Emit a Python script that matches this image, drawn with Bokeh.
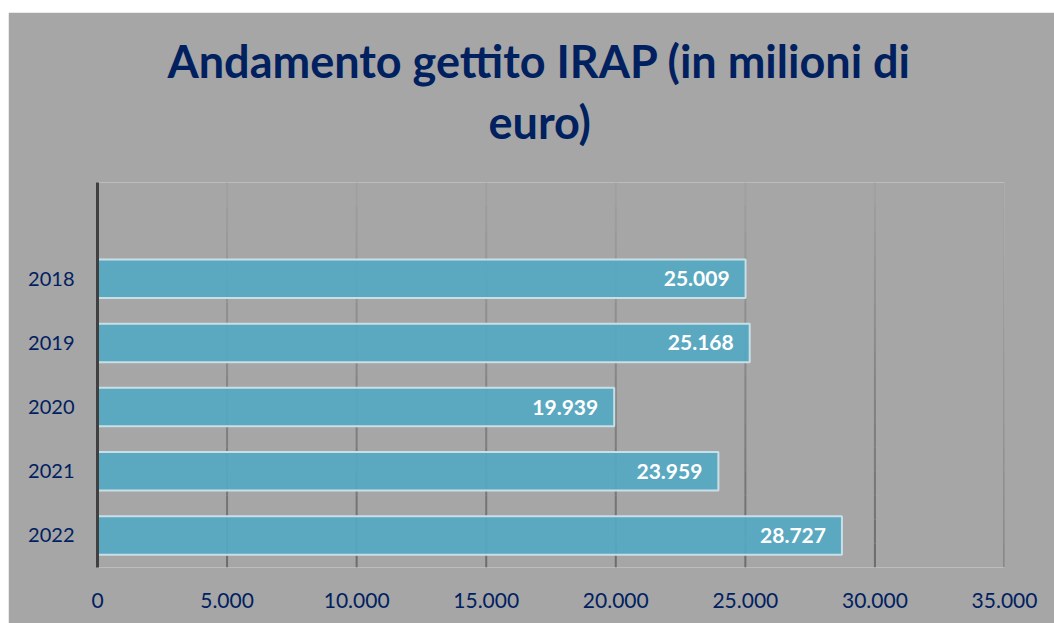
from bokeh.plotting import figure
from bokeh.models import Range1d, FixedTicker, Title, ColumnDataSource
from bokeh.core.properties import value
from bokeh.embed import file_html
from bokeh.resources import INLINE

# ---- data ----
years = ["2018", "2019", "2020", "2021", "2022"]
gettito = [25009, 25168, 19939, 23959, 28727]
x_ticks = [0, 5000, 10000, 15000, 20000, 25000, 30000, 35000]
x_tick_labels = ["0", "5.000", "10.000", "15.000", "20.000", "25.000", "30.000", "35.000"]
title_line1 = "Andamento gettito IRAP (in milioni di"
title_line2 = "euro)"

BG = "#a6a6a6"
NAVY = "#002060"
FONT = "Lato"

n = len(years)
ypos = [n - i for i in range(n)]          # 2018 at top
labels = [f"{v:,}".replace(",", ".") for v in gettito]
src = ColumnDataSource(dict(y=ypos, v=gettito, lab=labels))

X0, X1 = 0, 35000
Y0, Y1 = 0.5, n + 1.5

p = figure(width=1046, height=611, output_backend="svg", toolbar_location=None,
           x_range=Range1d(X0, X1), y_range=Range1d(Y0, Y1),
           min_border_left=89, min_border_right=50, min_border_bottom=56,
           min_border_top=170)
p.styles = {"margin-top": "12px", "margin-left": "8px"}
p.background_fill_color = BG
p.border_fill_color = BG
p.outline_line_color = None
p.xgrid.grid_line_color = None
p.ygrid.grid_line_color = None

# gradient gridlines (light at top, darker at bottom)
steps = 16
grid_x = x_ticks[1:]
for k in range(steps):
    ya = Y1 - (Y1 - Y0) * k / steps
    yb = Y1 - (Y1 - Y0) * (k + 1) / steps
    t = (k + 0.5) / steps
    c = int(162 - (162 - 108) * t)
    col = "#%02x%02x%02x" % (c, c, c)
    p.segment(x0=grid_x, x1=grid_x, y0=[ya] * len(grid_x), y1=[yb] * len(grid_x),
              line_color=col, line_width=2)

p.hbar(y="y", right="v", left=0, height=0.6, source=src,
       fill_color="#55a9c2", fill_alpha=0.93,
       line_color="#c8dfe7", line_width=2)

p.text(x="v", y="y", text="lab", source=src, x_offset=-16,
       text_align="right", text_baseline="middle",
       text_color="white", text_font=value(FONT), text_font_style="bold",
       text_font_size="21px")

# x axis
p.xaxis.ticker = FixedTicker(ticks=x_ticks)
p.xaxis.major_label_overrides = {t: l for t, l in zip(x_ticks, x_tick_labels)}
p.xaxis.axis_line_color = None
p.xaxis.major_tick_line_color = None
p.xaxis.minor_tick_line_color = None
p.xaxis.major_label_standoff = 19
p.xaxis.major_label_text_font = FONT
p.xaxis.major_label_text_font_size = "21px"
p.xaxis.major_label_text_color = NAVY

# y axis
p.yaxis.ticker = FixedTicker(ticks=ypos)
p.yaxis.major_label_overrides = {y: yr for y, yr in zip(ypos, years)}
p.yaxis.axis_line_color = "#404040"
p.yaxis.axis_line_width = 3
p.yaxis.major_tick_line_color = None
p.yaxis.minor_tick_line_color = None
p.yaxis.major_label_standoff = 17
p.yaxis.major_label_text_font = FONT
p.yaxis.major_label_text_font_size = "20px"
p.yaxis.major_label_text_color = NAVY

# two-line title
t2 = Title(text=title_line2, align="left", text_font=FONT, text_font_style="bold",
           text_font_size="45px", text_color=NAVY, standoff=68, offset=391)
t1 = Title(text=title_line1, align="left", text_font=FONT, text_font_style="bold",
           text_font_size="45px", text_color=NAVY, standoff=-58, offset=70)
p.add_layout(t2, "above")
p.add_layout(t1, "above")

open("out.html", "w").write(file_html(p, INLINE))
